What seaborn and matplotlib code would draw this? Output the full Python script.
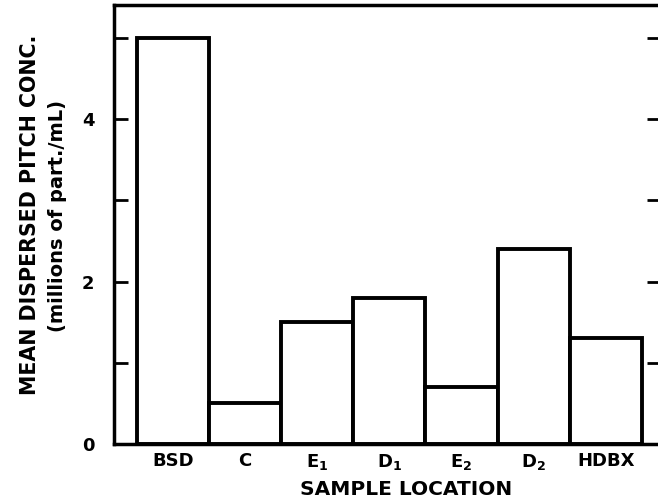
import pandas as pd
import matplotlib
matplotlib.use("Agg")
import matplotlib.pyplot as plt
import seaborn as sns

locations = ["BSD", "C", "E1", "D1", "E2", "D2", "HDBX"]
tick_labels = ["BSD", "C", r"E$_\mathbf{1}$", r"D$_\mathbf{1}$",
               r"E$_\mathbf{2}$", r"D$_\mathbf{2}$", "HDBX"]
mean_conc = [5.0, 0.5, 1.5, 1.8, 0.7, 2.4, 1.3]


def main():
    sns.set_style("ticks")
    plt.rcParams["font.family"] = ["DejaVu Sans"]
    plt.rcParams["font.weight"] = "bold"
    plt.rcParams["mathtext.fontset"] = "dejavusans"
    plt.rcParams["text.color"] = "black"
    plt.rcParams["xtick.color"] = "black"
    plt.rcParams["ytick.color"] = "black"
    plt.rcParams["axes.edgecolor"] = "black"

    df = pd.DataFrame({"Location": locations, "Conc": mean_conc})

    fig = plt.figure(figsize=(6.58, 5.03), dpi=100)
    # right edge sits just past the figure, like the cropped original
    ax = fig.add_axes([0.173, 0.117, 0.832, 0.873])
    sns.barplot(data=df, x="Location", y="Conc", order=locations,
                color="white", edgecolor="black", linewidth=2.8,
                width=1.0, saturation=1, ax=ax)

    ax.set_xlim(-0.82, 6.77)
    ax.set_ylim(0, 5.4)
    ax.set_yticks([0, 1, 2, 3, 4, 5])
    ax.set_yticklabels(["0", "", "2", "", "4", ""], fontsize=13, fontweight="bold")
    ax.set_xticks(range(len(locations)))
    ax.set_xticklabels(tick_labels, fontsize=13, fontweight="bold")
    ax.tick_params(axis="y", direction="in", length=10, width=2,
                   right=True, pad=14)
    ax.tick_params(axis="x", length=0, pad=6)
    for side in ["left", "bottom", "top", "right"]:
        ax.spines[side].set_linewidth(2.5)
    ax.set_xlabel("")
    ax.set_ylabel("")

    fig.text(0.046, 0.572, "MEAN DISPERSED PITCH CONC.", rotation=90,
             ha="center", va="center", fontsize=14.8, fontweight="bold")
    fig.text(0.088, 0.570, "(millions of part./mL)", rotation=90,
             ha="center", va="center", fontsize=14, fontweight="bold")
    fig.text(0.617, 0.026, "SAMPLE LOCATION", ha="center", va="center",
             fontsize=14.5, fontweight="bold")

    fig.savefig("out.png", dpi=100)


if __name__ == "__main__":
    main()
